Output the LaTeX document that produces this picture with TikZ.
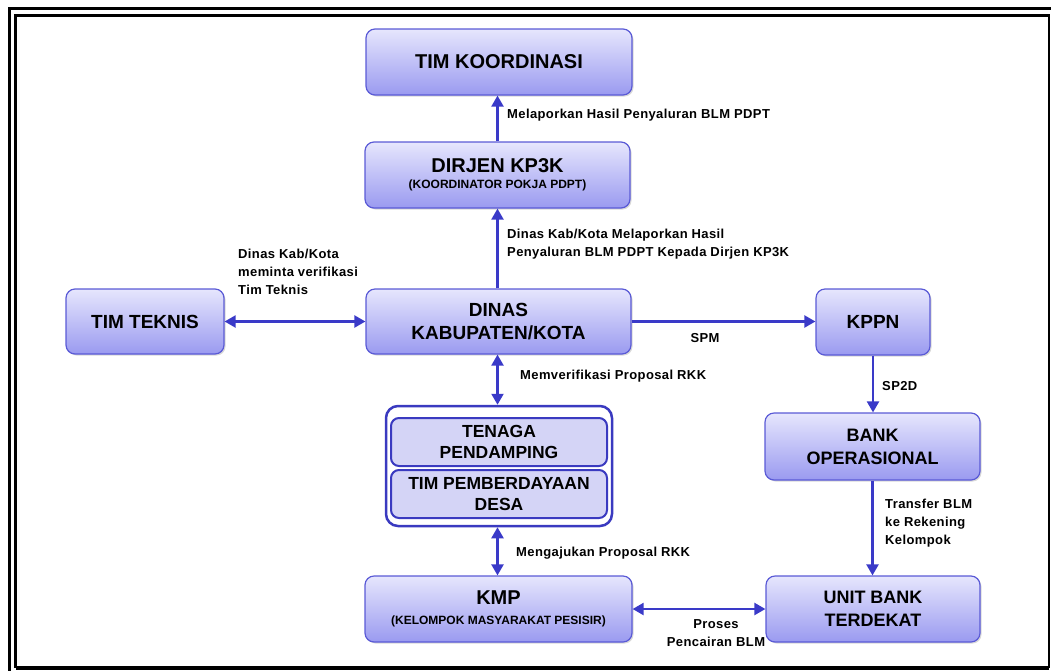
\documentclass[tikz,border=0pt]{standalone}
\usepackage{fontspec}
\setmainfont{Liberation Sans}
\usetikzlibrary{shadows,arrows.meta}
\definecolor{boxtop}{HTML}{E6E6FD}
\definecolor{boxbot}{HTML}{9A9AF0}
\definecolor{boxline}{HTML}{5A5AD6}
\definecolor{arr}{HTML}{3A3AC8}
\definecolor{grpfill}{HTML}{D4D4F6}
\definecolor{grpline}{HTML}{3A3AC0}
\begin{document}
\begin{tikzpicture}[x=1pt,y=-1pt,
  box/.style={draw=boxline, line width=1.2pt, rounded corners=9pt,
    top color=boxtop, bottom color=boxbot,
    drop shadow={opacity=0.3, shadow xshift=1.5pt, shadow yshift=-1.5pt},
    align=center, inner sep=0pt},
  inbox/.style={draw=grpline, line width=2pt, rounded corners=8pt, fill=grpfill,
    align=center, inner sep=0pt, minimum width=216pt, minimum height=48pt,
    font=\bfseries\fontsize{17.5}{21}\selectfont},
  grp/.style={draw=grpline, line width=2.5pt, rounded corners=12pt, fill=white,
    minimum width=226pt, minimum height=120pt, inner sep=0pt},
  lbl/.style={font=\bfseries\fontsize{13}{18}\selectfont\addfontfeature{LetterSpace=3}, align=left, inner sep=0pt},
  arw/.style={draw=arr, line width=2.2pt, -{Triangle[length=11pt,width=12pt]}},
  darw/.style={draw=arr, line width=2.2pt, {Triangle[length=11pt,width=12pt]}-{Triangle[length=11pt,width=12pt]}}
]
\useasboundingbox (0,0) rectangle (1051,670);
% frame
\draw[line width=3.5pt] (9.5,680) -- (9.5,8.5) -- (1060,8.5);
\draw[line width=2.5pt] (15.5,15.5) rectangle (1049,667);
\draw[line width=4pt] (15.5,667.5) -- (1049,667.5);

% nodes
\node[box, minimum width=266pt, minimum height=66pt, font=\bfseries\fontsize{20}{23}\selectfont] (koord) at (499,62)
  {TIM KOORDINASI};
\node[box, minimum width=265pt, minimum height=66pt, font=\bfseries\fontsize{20}{15.5}\selectfont] (dirjen) at (497.5,175)
  {DIRJEN KP3K\\{\fontsize{12}{14}\selectfont (KOORDINATOR POKJA PDPT)}};
\node[box, minimum width=158pt, minimum height=65pt, font=\bfseries\fontsize{19}{23}\selectfont] (teknis) at (145,321.5)
  {TIM TEKNIS};
\node[box, minimum width=265pt, minimum height=65pt, font=\bfseries\fontsize{19}{23}\selectfont] (dinas) at (498.5,321.5)
  {DINAS\\KABUPATEN/KOTA};
\node[box, minimum width=114pt, minimum height=66pt, font=\bfseries\fontsize{19}{23}\selectfont] (kppn) at (873,322)
  {KPPN};
\node[box, minimum width=215pt, minimum height=67pt, font=\bfseries\fontsize{18}{23}\selectfont] (bank) at (872.5,446.5)
  {BANK\\OPERASIONAL};
\node[grp] (grp) at (499,466) {};
\node[inbox] (tenaga) at (499,442) {TENAGA\\PENDAMPING};
\node[inbox] (tpd) at (499,494) {TIM PEMBERDAYAAN\\DESA};
\node[box, minimum width=267pt, minimum height=66pt, font=\bfseries\fontsize{20}{20}\selectfont] (kmp) at (498.5,609)
  {KMP\\{\fontsize{12}{14}\selectfont (KELOMPOK MASYARAKAT PESISIR)}};
\node[box, minimum width=214pt, minimum height=66pt, font=\bfseries\fontsize{18}{23}\selectfont] (unit) at (873,609)
  {UNIT BANK\\TERDEKAT};

% connectors
\draw[arw] (dirjen.north) -- (dirjen.north |- koord.south);
\draw[arw] (dinas.north -| dirjen.north) -- (dirjen.south);
\draw[darw] (teknis.east) -- (dinas.west);
\draw[arw] (dinas.east) -- (dinas.east -| kppn.west);
\draw[arw] (kppn.south) -- (kppn.south |- bank.north);
\draw[darw] (dinas.south -| dirjen.south) -- (grp.north -| dirjen.south);
\draw[darw] (grp.south -| dirjen.south) -- (kmp.north -| dirjen.south);
\draw[darw] (kmp.east) -- (unit.west);
\draw[arw] (bank.south) -- (bank.south |- unit.north);

% labels
\node[lbl, anchor=west] (l1) at (507,115) {Melaporkan\ Hasil\ Penyaluran\ BLM\ PDPT};
\node[lbl, anchor=north west] (l2) at (507,229) {Dinas Kab/Kota Melaporkan Hasil\\Penyaluran\ BLM\ PDPT Kepada\ Dirjen KP3K};
\node[lbl, anchor=north west] (l3) at (238,249) {Dinas Kab/Kota\\meminta verifikasi\\Tim Teknis};
\node[lbl, anchor=center] (l4) at (705,338) {SPM};
\node[lbl, anchor=west] (l5) at (882,386) {SP2D};
\node[lbl, anchor=west] (l6) at (520,376) {Memverifikasi\ Proposal\ RKK};
\node[lbl, anchor=west] (l7) at (516,553) {Mengajukan\ Proposal\ RKK};
\node[lbl, anchor=north, align=center] (l8) at (716,619) {Proses\\Pencairan BLM};
\node[lbl, anchor=north west] (l9) at (885,499) {Transfer\ BLM\\ke Rekening\\Kelompok};
\end{tikzpicture}
\end{document}
